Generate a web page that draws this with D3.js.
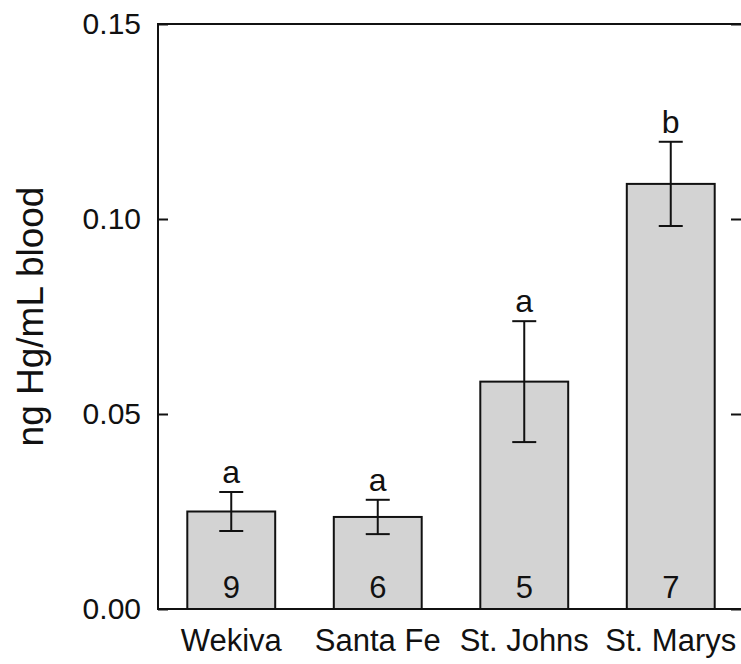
<!DOCTYPE html>
<html>
<head>
<meta charset="utf-8">
<script src="https://cdn.jsdelivr.net/npm/d3@7"></script>
<style>
  html, body { margin: 0; padding: 0; background: #fff; }
  svg { display: block; }
  text { font-family: "Liberation Sans", Arial, Helvetica, sans-serif; fill: #111; }
</style>
</head>
<body>
<svg id="chart" width="741" height="664"></svg>
<script>
// ---- data ----
const categories = ["Wekiva", "Santa Fe", "St. Johns", "St. Marys"];
const means      = [0.0250, 0.0236, 0.0583, 0.1090];
const errors     = [0.0050, 0.0044, 0.0155, 0.0108];
const sampleN    = ["9", "6", "5", "7"];
const groupLetters = ["a", "a", "a", "b"];
const yTicks     = [0, 0.05, 0.10, 0.15];
const yLabel     = "ng Hg/mL blood";

// ---- layout ----
const svg = d3.select("#chart");
const plot = { left: 158, right: 742, top: 24, bottom: 609 };

const x = d3.scaleBand()
  .domain(categories)
  .range([plot.left, 744])
  .paddingInner(0.4)
  .paddingOuter(0.2);

const y = d3.scaleLinear()
  .domain([0, 0.15])
  .range([plot.bottom, plot.top]);

const data = categories.map((c, i) => ({
  cat: c, mean: means[i], err: errors[i], n: sampleN[i], letter: groupLetters[i]
}));

// bars
svg.append("g").selectAll("rect")
  .data(data).join("rect")
  .attr("x", d => x(d.cat))
  .attr("width", x.bandwidth())
  .attr("y", d => y(d.mean))
  .attr("height", d => y(0) - y(d.mean))
  .attr("fill", "#d3d3d3")
  .attr("stroke", "#111")
  .attr("stroke-width", 2);

// error bars
const capHalf = 12;
const eb = svg.append("g").attr("stroke", "#111").attr("stroke-width", 2);
data.forEach(d => {
  const cx = x(d.cat) + x.bandwidth() / 2;
  eb.append("line").attr("x1", cx).attr("x2", cx)
    .attr("y1", y(d.mean + d.err)).attr("y2", y(d.mean - d.err));
  eb.append("line").attr("x1", cx - capHalf).attr("x2", cx + capHalf)
    .attr("y1", y(d.mean + d.err)).attr("y2", y(d.mean + d.err));
  eb.append("line").attr("x1", cx - capHalf).attr("x2", cx + capHalf)
    .attr("y1", y(d.mean - d.err)).attr("y2", y(d.mean - d.err));
});

// letters above error bars
svg.append("g").selectAll("text")
  .data(data).join("text")
  .attr("x", d => x(d.cat) + x.bandwidth() / 2)
  .attr("y", d => y(d.mean + d.err) - 9)
  .attr("text-anchor", "middle")
  .attr("font-size", 32)
  .text(d => d.letter);

// sample sizes inside bars
svg.append("g").selectAll("text")
  .data(data).join("text")
  .attr("x", d => x(d.cat) + x.bandwidth() / 2)
  .attr("y", y(0) - 11)
  .attr("text-anchor", "middle")
  .attr("font-size", 31)
  .text(d => d.n);

// frame
const frame = svg.append("g").attr("stroke", "#111").attr("stroke-width", 2).attr("fill", "none");
frame.append("rect")
  .attr("x", plot.left).attr("y", plot.top)
  .attr("width", plot.right - plot.left).attr("height", plot.bottom - plot.top);

// left axis (ticks inward)
const yAxisL = d3.axisLeft(y).tickValues(yTicks).tickFormat(d3.format(".2f")).tickSizeInner(-10).tickSizeOuter(0).tickPadding(17);
const gL = svg.append("g").attr("transform", `translate(${plot.left},0)`).call(yAxisL);
gL.select(".domain").remove();
gL.selectAll(".tick line").attr("stroke", "#111").attr("stroke-width", 2);
gL.selectAll(".tick text").attr("font-size", 30).attr("font-family", "Liberation Sans, Arial, sans-serif").attr("fill", "#111");

// right axis ticks (inward, no labels)
const yAxisR = d3.axisRight(y).tickValues(yTicks).tickSizeInner(-11).tickSizeOuter(0).tickFormat("");
const gR = svg.append("g").attr("transform", `translate(${plot.right},0)`).call(yAxisR);
gR.select(".domain").remove();
gR.selectAll(".tick line").attr("stroke", "#111").attr("stroke-width", 2);

// bottom axis labels
const xAxis = d3.axisBottom(x).tickSize(0).tickPadding(20);
const gB = svg.append("g").attr("transform", `translate(0,${plot.bottom})`).call(xAxis);
gB.select(".domain").remove();
gB.selectAll(".tick text").attr("font-size", 31).attr("font-family", "Liberation Sans, Arial, sans-serif").attr("fill", "#111");

// y label
svg.append("text")
  .attr("transform", `translate(43,${(plot.top + plot.bottom) / 2}) rotate(-90)`)
  .attr("text-anchor", "middle")
  .attr("font-size", 37)
  .text(yLabel);
</script>
</body>
</html>
